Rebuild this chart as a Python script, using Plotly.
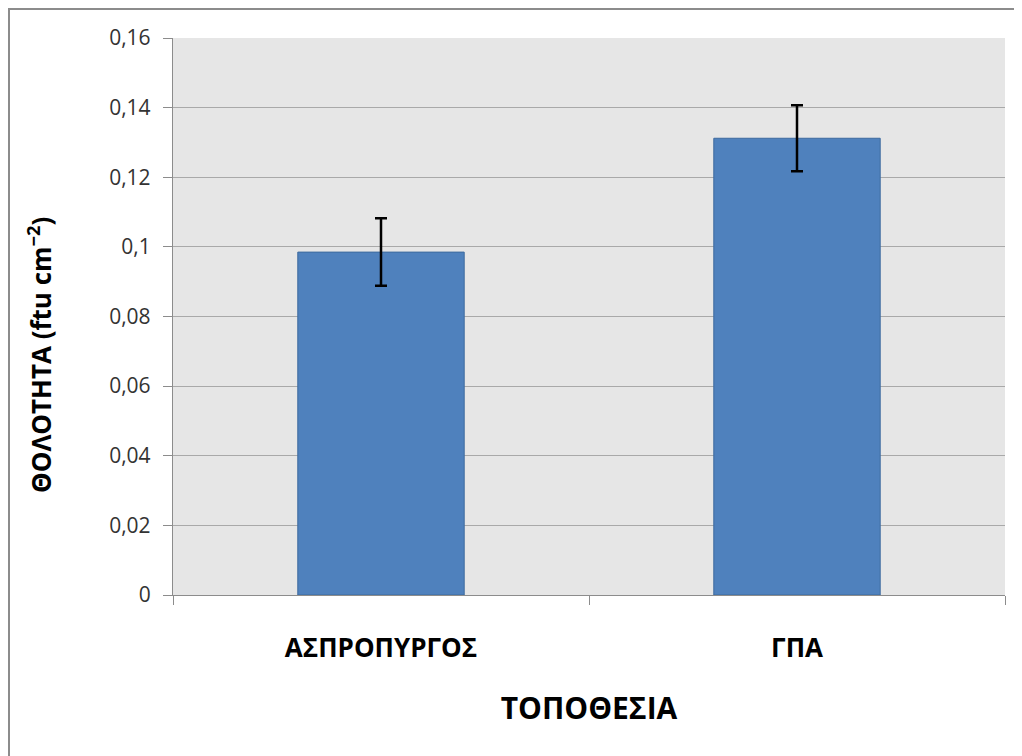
import plotly.graph_objects as go

categories = ["ΑΣΠΡΟΠΥΡΓΟΣ", "ΓΠΑ"]
values = [0.0985, 0.1312]
errors = [0.0097, 0.0095]
y_tickvals = [0, 0.02, 0.04, 0.06, 0.08, 0.1, 0.12, 0.14, 0.16]
y_ticktext = ["0", "0,02", "0,04", "0,06", "0,08", "0,1", "0,12", "0,14", "0,16"]

FONT = "Open Sans"

fig = go.Figure(go.Bar(
    x=categories, y=values, width=0.4,
    marker=dict(color="#4f81bd", line=dict(color="#3d6a9e", width=1)),
    error_y=dict(type="data", array=errors, visible=True, color="#000000", thickness=2.5, width=6),
))

fig.update_layout(
    width=1022, height=756,
    margin=dict(l=165, r=25, t=30, b=169),
    paper_bgcolor="white", plot_bgcolor="#e6e6e6",
    showlegend=False,
    font=dict(family=FONT, color="#000000"),
    bargap=0.6,
    shapes=[dict(type="rect", xref="paper", yref="paper",
                 x0=(1 - 165) / 832, x1=1.2, y0=-0.5, y1=1 + 29 / 557,
                 line=dict(color="#8c8c8c", width=2), fillcolor="rgba(0,0,0,0)", layer="below")],
    annotations=[dict(text="ΘΟΛΟΤΗΤΑ (ftu cm<sup>−2</sup>)", textangle=-90, xref="paper", yref="paper",
                      x=(40 - 173) / 832, y=(595 - 355) / 557, showarrow=False,
                      xanchor="center", yanchor="middle",
                      font=dict(family=FONT, size=26, color="#000000", weight="bold"))],
)

fig.update_yaxes(
    range=[0, 0.16], tickvals=y_tickvals, ticktext=y_ticktext,
    showgrid=True, gridcolor="#a9a9a9", gridwidth=1.3,
    showline=True, linecolor="#8c8c8c", linewidth=1.3,
    ticks="outside", ticklen=9, tickcolor="#8c8c8c",
    tickfont=dict(family=FONT, size=21, color="#333333"),
    ticklabelstandoff=8, zeroline=False,
)
fig.update_xaxes(
    showline=True, linecolor="#8c8c8c", linewidth=1.3,
    ticks="outside", ticklen=9, tickcolor="#8c8c8c", tickson="boundaries",
    tickfont=dict(family=FONT, size=26, color="#000000", weight="bold"),
    ticklabelstandoff=30,
    title=dict(text="ΤΟΠΟΘΕΣΙΑ", font=dict(family=FONT, size=30, color="#000000", weight="bold"), standoff=33),
)

fig.write_html("out.html")
